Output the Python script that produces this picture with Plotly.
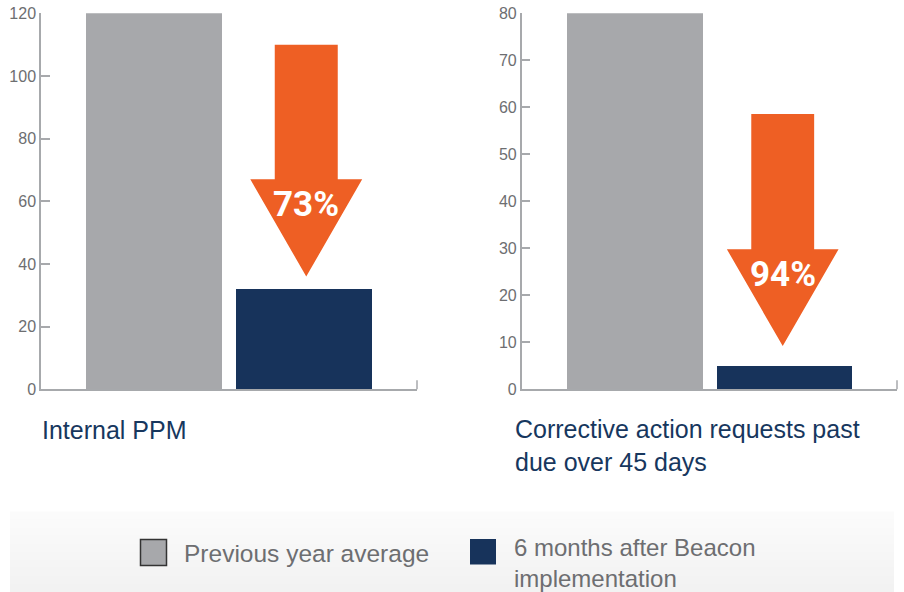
import plotly.graph_objects as go

# ---------------- data ----------------
series_names = ["Previous year average", "6 months after Beacon implementation"]
bar_positions = [0, 1]
ppm_values = [120, 32]
car_values = [80, 5]
ppm_ticks = [0, 20, 40, 60, 80, 100, 120]
car_ticks = [0, 10, 20, 30, 40, 50, 60, 70, 80]
chart_titles = ["Internal PPM", "Corrective action requests past<br>due over 45 days"]
reduction_labels = ["73%", "94%"]
# arrow in data units: shaft top, head base, tip
ppm_arrow = [110, 67, 36]
car_arrow = [58.6, 29.8, 9.2]
legend_labels = ["Previous year average", "6 months after Beacon<br>implementation"]

# ---------------- style ----------------
W, H = 904, 592
GRAY = "#a7a8ab"
NAVY = "#17335b"
ORANGE = "#ee5f24"
AXIS = "#a7a9ac"
TICKTXT = "#6d6e71"
TITLE = "#17375e"
FONT = "Liberation Sans"

def px(x):
    return x / W

def py(y):
    return 1 - y / H

XR = [-0.7533, 1.7533]
ydom = [py(389.3), py(13.3)]
doms = [[px(41), px(417)], [px(521.7), px(897)]]

fig = go.Figure()
colors = [GRAY, NAVY]
for i, (vals, ax) in enumerate([(ppm_values, ""), (car_values, "2")]):
    fig.add_trace(go.Bar(
        x=bar_positions, y=vals, width=0.9067,
        marker=dict(color=colors, line=dict(width=0)),
        xaxis="x" + ax, yaxis="y" + ax, showlegend=False, hoverinfo="skip"))

axis_common = dict(showgrid=False, zeroline=False, showline=True, linecolor=AXIS,
                   linewidth=1.5, fixedrange=True, automargin=False)
for i, (ax, ticks) in enumerate([("", ppm_ticks), ("2", car_ticks)]):
    fig.update_layout(**{
        "xaxis" + ax: dict(domain=doms[i], range=XR, showticklabels=False, ticks="",
                           anchor="y" + ax, **axis_common),
        "yaxis" + ax: dict(domain=ydom, range=[0, ticks[-1]], tickvals=ticks,
                           ticks="inside", ticklen=9, tickwidth=1.5, tickcolor=AXIS,
                           tickfont=dict(family=FONT, size=16, color=TICKTXT),
                           anchor="x" + ax, **axis_common),
    })

shapes = []
annotations = []
# right-end tick of the x axes
for ax in ["x", "x2"]:
    yref = "y" if ax == "x" else "y2"
    shapes.append(dict(type="line", xref=ax + " domain", yref=yref + " domain",
                       x0=1, x1=1, y0=0, y1=9 / 376, line=dict(color=AXIS, width=1.5)))

# arrows
for ax, arrow, cx, lab in [("", ppm_arrow, 1.015, reduction_labels[0]),
                           ("2", car_arrow, 0.99, reduction_labels[1])]:
    top, base, tip = arrow
    sw, hw = 0.21, 0.373
    path = (f"M {cx-sw},{top} L {cx+sw},{top} L {cx+sw},{base} L {cx+hw},{base} "
            f"L {cx},{tip} L {cx-hw},{base} L {cx-sw},{base} Z")
    shapes.append(dict(type="path", path=path, xref="x" + ax, yref="y" + ax,
                       fillcolor=ORANGE, line=dict(width=0), layer="above"))
    ymid = base - (base - tip) * 0.26
    annotations.append(dict(x=cx, y=ymid, xref="x" + ax, yref="y" + ax, text="<b>" + lab + "</b>",
                            showarrow=False, xanchor="center", yanchor="middle",
                            font=dict(family="Roboto", size=35, color="white")))

# chart titles
annotations.append(dict(x=px(40), y=py(446), xref="paper", yref="paper", text=chart_titles[0],
                        showarrow=False, xanchor="left", yanchor="bottom", align="left",
                        font=dict(family=FONT, size=25, color=TITLE)))
annotations.append(dict(x=px(513), y=py(478), xref="paper", yref="paper", text=chart_titles[1],
                        showarrow=False, xanchor="left", yanchor="bottom", align="left",
                        font=dict(family=FONT, size=25, color=TITLE)))

# background band (gradient approximation: lighter at top, darker at bottom)
n = 20
y0, y1 = 511.5, 592
c_top, c_bot = 251, 242
for k in range(n):
    ya = y0 + (y1 - y0) * k / n
    yb = y0 + (y1 - y0) * (k + 1) / n
    c = round(c_top + (c_bot - c_top) * k / (n - 1))
    shapes.append(dict(type="rect", xref="paper", yref="paper", x0=px(10), x1=px(894),
                       y0=py(min(yb + 0.5, 592)), y1=py(ya), fillcolor=f"rgb({c},{c},{c})",
                       line=dict(width=0), layer="below"))

# legend
shapes.append(dict(type="rect", xref="paper", yref="paper", x0=px(140.5), x1=px(166.5),
                   y0=py(565.5), y1=py(539.5), fillcolor=GRAY,
                   line=dict(color="#333333", width=1.5)))
shapes.append(dict(type="rect", xref="paper", yref="paper", x0=px(470), x1=px(496),
                   y0=py(564.5), y1=py(539), fillcolor=NAVY, line=dict(width=0)))
annotations.append(dict(x=px(182), y=py(553), xref="paper", yref="paper", text=legend_labels[0],
                        showarrow=False, xanchor="left", yanchor="middle", align="left",
                        font=dict(family=FONT, size=24.5, color=TICKTXT)))
annotations.append(dict(x=px(512), y=py(531.5), xref="paper", yref="paper", text=legend_labels[1],
                        showarrow=False, xanchor="left", yanchor="top", align="left",
                        font=dict(family=FONT, size=24, color=TICKTXT)))

fig.update_layout(width=W, height=H, margin=dict(l=0, r=0, t=0, b=0, pad=0),
                  paper_bgcolor="white", plot_bgcolor="rgba(0,0,0,0)",
                  shapes=shapes, annotations=annotations, showlegend=False,
                  bargap=0)
fig.write_html("out.html", config={"displayModeBar": False})
